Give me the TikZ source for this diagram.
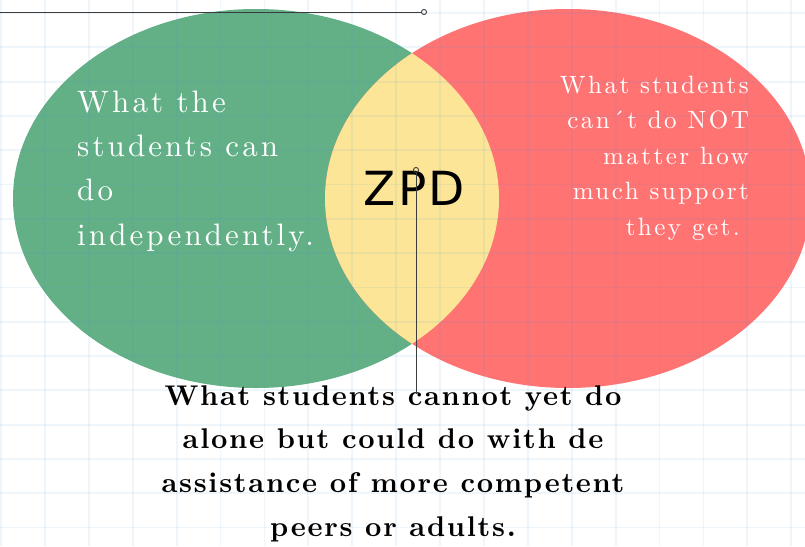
\documentclass[tikz,border=0pt]{standalone}
\usepackage{fontspec}
\usepackage{tikz}
\usetikzlibrary{arrows.meta}
\newfontfamily\zpdfont[LetterSpace=5]{DejaVu Sans}
\newfontfamily\lmspaced[BoldFont=lmroman10-bold.otf]{lmroman10-regular.otf}
\definecolor{gridblue}{RGB}{70,145,220}
\definecolor{knowgreen}{RGB}{99,176,135}
\definecolor{cannotred}{RGB}{255,115,115}
\definecolor{zpdyellow}{RGB}{252,229,150}
\definecolor{pingray}{RGB}{60,60,60}
\newcommand{\pagew}{805}
\newcommand{\pageh}{546}
\newcommand{\vennrx}{243pt}
\newcommand{\vennry}{189.5pt}
\newcommand{\venncy}{198.5}
\newcommand{\greencx}{256}
\newcommand{\redcx}{568}
\newcommand{\gridsx}{43.9}
\newcommand{\gridsy}{34.3}
\newcommand{\greenpart}{
  (\greencx, \venncy) ellipse [x radius=\vennrx, y radius=\vennry]
}
\newcommand{\redpart}{
  (\redcx, \venncy) ellipse [x radius=\vennrx, y radius=\vennry]
}
\tikzset{
  gridline/.style={draw=gridblue, line width=1.8pt, opacity=0.09},
  pinline/.style={draw=pingray, line width=0.9pt, {Circle[open,length=6pt,width=6pt]}-},
  circletext/.style={text=white, inner sep=0pt,
    font={\lmspaced\fontsize{31}{44.3}\selectfont\addfontfeatures{LetterSpace=10}}},
  sidetext/.style={text=white, inner sep=0pt,
    font={\lmspaced\fontsize{25}{35.5}\selectfont\addfontfeatures{LetterSpace=10}}},
  belowtext/.style={text=black, inner sep=0pt,
    font={\lmspaced\fontsize{28.5}{43.7}\selectfont\bfseries\addfontfeatures{LetterSpace=6}}}
}

\begin{document}
\begin{tikzpicture}[x=1pt, y=-1pt]
    \useasboundingbox (0,0) rectangle (\pagew,\pageh);
    \fill[white] (0,0) rectangle (\pagew,\pageh);

    % the two sets
    \fill[knowgreen] \greenpart;
    \fill[cannotred] \redpart;
    \begin{scope}
      \clip \greenpart;
      \fill[zpdyellow] \redpart;
    \end{scope}

    % paper grid
    \foreach \gx in {0,...,18}
      \draw[gridline] ({1+\gridsx*\gx},0) -- ({1+\gridsx*\gx},\pageh);
    \foreach \gy in {0,...,15}
      \draw[gridline] (0,{13+\gridsy*\gy}) -- (\pagew,{13+\gridsy*\gy});

    \node[circletext, align=left, anchor=north west] (selftext) at (77,90.5)
      {What the\\students can\\do\\independently.};
    \node[sidetext, align=right, anchor=north east] (beyondtext) at (749,75.7)
      {What students\\can\'{}t do NOT\\matter how\\much support\hspace*{17pt}\\they get.\hspace*{9pt}};
    \node[anchor=base, inner sep=0pt, font={\zpdfont\fontsize{47}{50}\selectfont}]
      (zpdlabel) at (414.5,205) {ZPD};
    \node[belowtext, align=center, anchor=north] (zpdtext) at (393,385.2)
      {What students cannot yet do\\alone but could do with de\\assistance of more competent\\peers or adults.};

    % pins
    \coordinate (topstart) at (0,12);
    \coordinate (toppin) at (427,12);
    \coordinate (zpdpin) at (416,167);
    \coordinate (zpdfoot) at (416,394);
    \draw[pinline] (toppin) -- (topstart);
    \draw[pinline] (zpdpin) -- (zpdfoot);
\end{tikzpicture}
\end{document}
